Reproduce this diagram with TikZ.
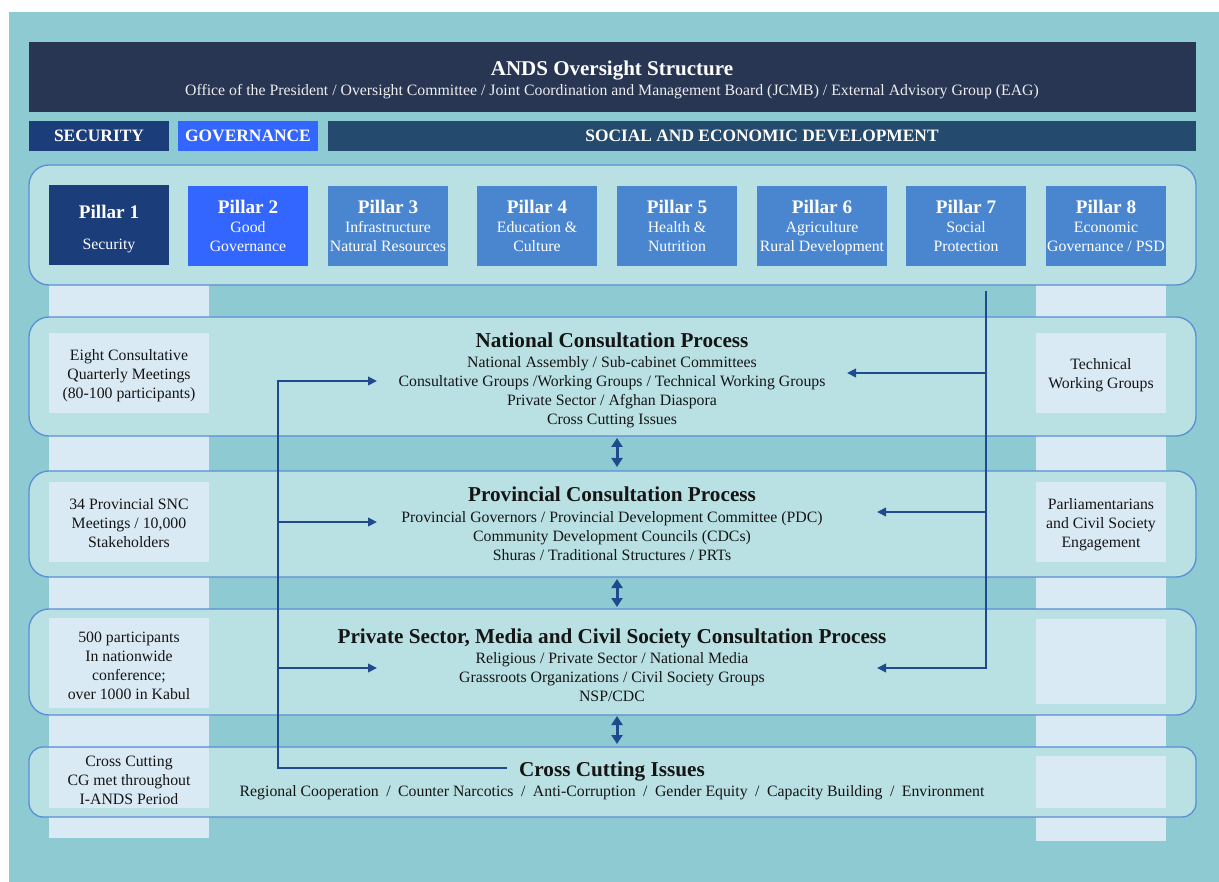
\documentclass[tikz,border=0pt]{standalone}
\usepackage{fontspec}
\setmainfont{Liberation Serif}
\usetikzlibrary{arrows.meta,calc}
\definecolor{bgteal}{HTML}{8DCAD2}
\definecolor{hdr}{HTML}{283654}
\definecolor{secb}{HTML}{1B3D7A}
\definecolor{govb}{HTML}{3366FF}
\definecolor{socb}{HTML}{244A6E}
\definecolor{pilb}{HTML}{4A86D0}
\definecolor{rowfill}{HTML}{B9E0E3}
\definecolor{rowline}{HTML}{5B8ED6}
\definecolor{colfill}{HTML}{DAEAF4}
\definecolor{arr}{HTML}{1F4B8E}
\definecolor{ink}{HTML}{151515}
\newcommand\fsn{\fontsize{15.8}{19}\selectfont}
\newcommand\fpt{\fontsize{19.2}{21}\selectfont\bfseries}
\begin{document}
\begin{tikzpicture}[x=1pt,y=-1pt,
  every node/.style={inner sep=0pt,outer sep=0pt},
  rowbox/.style={draw=rowline,line width=1.3pt,fill=rowfill,rounded corners=20pt,minimum width=1167pt,anchor=north west},
  catbox/.style={minimum height=30pt,anchor=north west,text=white,font=\fontsize{17.4}{20}\selectfont\bfseries},
  pillarbox/.style={minimum width=120pt,minimum height=80pt,text=white,align=center,fill=pilb,font=\fsn},
  sidebox/.style={fill=colfill,anchor=north west},
  sidetxt/.style={align=center,text=ink,font=\fsn},
  ttl/.style={anchor=base,text=ink,font=\fontsize{21.2}{24}\selectfont\bfseries},
  ln/.style={anchor=base,text=ink,font=\fsn},
  conn/.style={draw=arr,line width=2.1pt},
  tip/.style={-{Triangle[length=9pt,width=8.5pt]}},
  dbl/.style={draw=arr,line width=3pt,{Triangle[length=9pt,width=11pt]}-{Triangle[length=9pt,width=11pt]}}
]
\useasboundingbox (0,0) rectangle (1219,882);
\fill[white] (0,0) rectangle (1219,882);
\fill[bgteal] (9,12) rectangle (1219,882);
% header
\node[fill=hdr,minimum width=1167pt,minimum height=70pt,anchor=north west] (hdrbox) at (29,42) {};
\node[anchor=base,text=white,font=\fontsize{21}{24}\selectfont\bfseries] (hdrtitle) at (612,76) {ANDS Oversight Structure};
\node[anchor=base,text=white!93!black,font=\fsn] (hdrsub) at (612,96) {Office of the President / Oversight Committee / Joint Coordination and Management Board (JCMB) / External Advisory Group (EAG)};
% categories
\node[catbox,fill=secb,minimum width=140pt] (catsec) at (29,121) {SECURITY};
\node[catbox,fill=govb,minimum width=140pt] (catgov) at (178,121) {GOVERNANCE};
\node[catbox,fill=socb,minimum width=868pt] (catsoc) at (328,121) {SOCIAL AND ECONOMIC DEVELOPMENT};
% side columns
\fill[colfill] (49,280) rectangle (209,838);
\fill[colfill] (1036,280) rectangle (1166,841);
% pillars
\node[rowbox,minimum height=120pt] (pilrow) at (29,165) {};
\node[pillarbox,fill=secb,minimum height=80pt] (p1) at (109,225) {};
\node[align=center,text=white,font=\fsn] (p1t) at ([yshift=-4pt]p1.center) {{\fpt Pillar 1}\\[12pt]Security};
\node[pillarbox,fill=govb] (p2) at (248,226) {{\fpt Pillar 2}\\Good\\Governance};
\node[pillarbox] (p3) at (388,226) {{\fpt Pillar 3}\\Infrastructure\\Natural Resources};
\node[pillarbox] (p4) at (537,226) {{\fpt Pillar 4}\\Education \&\\Culture};
\node[pillarbox] (p5) at (677,226) {{\fpt Pillar 5}\\Health \&\\Nutrition};
\node[pillarbox,minimum width=130pt,text depth=0pt] (p6) at (822,226) {{\fpt Pillar 6}\\Agriculture\\Rural Development};
\node[pillarbox] (p7) at (966,226) {{\fpt Pillar 7}\\Social\\Protection};
\node[pillarbox] (p8) at (1106,226) {{\fpt Pillar 8}\\Economic\\Governance / PSD};
% rows
\node[rowbox,minimum height=119pt] (nat) at (29,317) {};
\node[rowbox,minimum height=106pt] (prov) at (29,471) {};
\node[rowbox,minimum height=106pt] (priv) at (29,609) {};
\node[rowbox,minimum height=70pt,rounded corners=14pt] (cc) at (29,747) {};
% left side boxes
\node[sidebox,minimum width=160pt,minimum height=80pt] (lnat) at (49,333) {};
\node[sidebox,minimum width=160pt,minimum height=80pt] (lprov) at (49,482) {};
\node[sidebox,minimum width=160pt,minimum height=90pt] (lpriv) at (49,618) {};
\node[sidebox,minimum width=160pt,minimum height=60pt] (lcc) at (49,748) {};
\node[sidetxt] (lnatt) at ([yshift=-3pt]lnat.center) {Eight Consultative\\Quarterly Meetings\\(80-100 participants)};
\node[sidetxt] (lprovt) at ([yshift=-1.5pt]lprov.center) {34 Provincial SNC\\Meetings / 10,000\\Stakeholders};
\node[sidetxt] (lprivt) at ([yshift=-3pt]lpriv.center) {500 participants\\In nationwide\\conference;\\over 1000 in Kabul};
\node[sidetxt] (lcct) at ([yshift=-2pt]lcc.center) {Cross Cutting\\CG met throughout\\I-ANDS Period};
% right side boxes
\node[sidebox,minimum width=130pt,minimum height=80pt] (rnat) at (1036,333) {};
\node[sidebox,minimum width=130pt,minimum height=80pt] (rprov) at (1036,482) {};
\node[sidebox,minimum width=130pt,minimum height=85pt] (rpriv) at (1036,619) {};
\node[sidebox,minimum width=130pt,minimum height=52pt] (rcc) at (1036,756) {};
\node[sidetxt] (rnatt) at ([yshift=-2pt]rnat.center) {Technical\\Working Groups};
\node[sidetxt] (rprovt) at ([yshift=-3pt]rprov.center) {Parliamentarians\\and Civil Society\\Engagement};
% row texts
\node[ttl] (natt) at (612,348) {National Consultation Process};
\node[ln] (nat1) at (612,368) {National Assembly / Sub-cabinet Committees};
\node[ln] (nat2) at (612,387) {Consultative Groups /Working Groups / Technical Working Groups};
\node[ln] (nat3) at (612,406) {Private Sector / Afghan Diaspora};
\node[ln] (nat4) at (612,425) {Cross Cutting Issues};
\node[ttl] (provt) at (612,502) {Provincial Consultation Process};
\node[ln] (prov1) at (612,522) {Provincial Governors / Provincial Development Committee (PDC)};
\node[ln] (prov2) at (612,541) {Community Development Councils (CDCs)};
\node[ln] (prov3) at (612,560) {Shuras / Traditional Structures / PRTs};
\node[ttl] (privt) at (612,643) {Private Sector, Media and Civil Society Consultation Process};
\node[ln] (priv1) at (612,663) {Religious / Private Sector / National Media};
\node[ln] (priv2) at (612,682) {Grassroots Organizations / Civil Society Groups};
\node[ln] (priv3) at (612,701) {NSP/CDC};
\node[ttl] (cct) at (612,776) {Cross Cutting Issues};
\node[ln] (cc1) at (612,796) {Regional Cooperation\hspace{7.5pt}/\hspace{7.5pt}Counter Narcotics\hspace{7.5pt}/\hspace{7.5pt}Anti-Corruption\hspace{7.5pt}/\hspace{7.5pt}Gender Equity\hspace{7.5pt}/\hspace{7.5pt}Capacity Building\hspace{7.5pt}/\hspace{7.5pt}Environment};
% connector coordinates
\coordinate (ltop) at (278,381);
\coordinate (lbot) at (278,768);
\coordinate (ccin) at (507,768);
\coordinate (natin) at (377,381);
\coordinate (provin) at (377,522);
\coordinate (privin) at (377,668);
\coordinate (rtop) at (986,291);
\coordinate (natr) at (847,373);
\coordinate (provr) at (877,512);
\coordinate (privr) at (877,668);
\coordinate (dx) at (617,0);
% left trunk
\draw[conn,tip] (ccin) -- (lbot) -- (ltop) -- (natin);
\draw[conn,tip] (ltop |- provin) -- (provin);
\draw[conn,tip] (ltop |- privin) -- (privin);
% right trunk
\draw[conn,tip] (rtop) |- (privr);
\draw[conn,tip] (rtop |- natr) -- (natr);
\draw[conn,tip] (rtop |- provr) -- (provr);
% double arrows
\draw[dbl] ([yshift=-2pt]nat.south -| dx) -- ([yshift=4pt]prov.north -| dx);
\draw[dbl] ([yshift=-2pt]prov.south -| dx) -- ([yshift=2pt]priv.north -| dx);
\draw[dbl] ([yshift=-1pt]priv.south -| dx) -- ([yshift=3pt]cc.north -| dx);
\end{tikzpicture}
\end{document}
